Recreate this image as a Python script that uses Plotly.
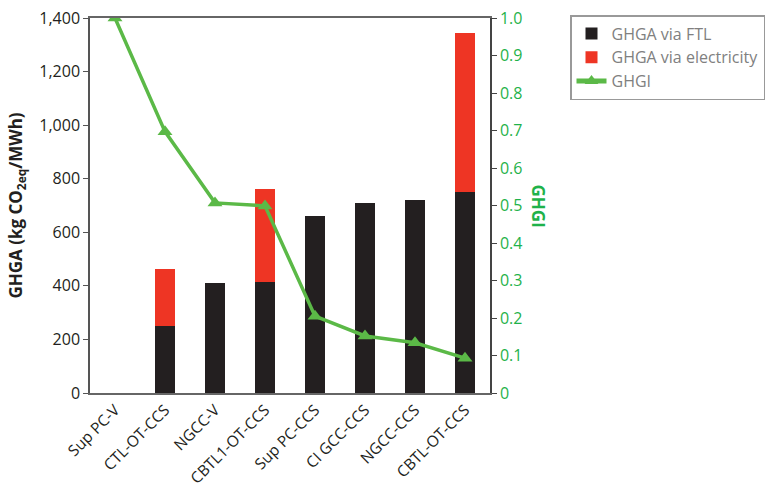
import plotly.graph_objects as go

# Plant configurations and their greenhouse-gas results
categories = ["Sup PC-V", "CTL-OT-CCS", "NGCC-V", "CBTL1-OT-CCS",
              "Sup PC-CCS", "CI GCC-CCS", "NGCC-CCS", "CBTL-OT-CCS"]
ghga_ftl = [0, 250, 410, 414, 660, 709, 720, 750]          # kg CO2eq/MWh
ghga_electricity = [0, 213, 0, 347, 0, 0, 0, 593]         # kg CO2eq/MWh
ghgi = [1.0, 0.697, 0.507, 0.499, 0.205, 0.152, 0.134, 0.093]

left_ticks = [0, 200, 400, 600, 800, 1000, 1200, 1400]
right_ticks = [0, 0.1, 0.2, 0.3, 0.4, 0.5, 0.6, 0.7, 0.8, 0.9, 1.0]

BLACK = "#231f20"
RED = "#ee3524"
GREEN = "#5bb947"
GREEN_TXT = "#1fb24a"
FONT = "Open Sans"

fig = go.Figure()
fig.add_trace(go.Bar(x=categories, y=ghga_ftl, name="GHGA via FTL",
                     marker=dict(color=BLACK, line=dict(width=0)), width=0.4))
fig.add_trace(go.Bar(x=categories, y=ghga_electricity, name="GHGA via electricity",
                     marker=dict(color=RED, line=dict(width=0)), width=0.4))
fig.add_trace(go.Scatter(x=categories, y=ghgi, name="GHGI", yaxis="y2",
                         mode="lines+markers",
                         line=dict(color=GREEN, width=3.5),
                         marker=dict(symbol="triangle-up", size=13, color=GREEN)))

fig.update_layout(
    width=772, height=488,
    margin=dict(l=90, r=282, t=18, b=95, autoexpand=False),
    barmode="stack",
    paper_bgcolor="white", plot_bgcolor="white",
    font=dict(family=FONT, size=15, color=BLACK),
    xaxis=dict(range=[-0.5, 7.5], tickangle=-45, showline=True, linecolor="#666666",
               linewidth=2, mirror=True, ticks="", automargin=False,
               tickfont=dict(size=15.5, color=BLACK)),
    yaxis=dict(range=[0, 1400], tickvals=left_ticks,
               ticktext=[f"{v:,}" for v in left_ticks], automargin=False,
               showgrid=False, zeroline=False, showline=True, linecolor="#555555",
               linewidth=1.5, ticks="outside", ticklen=5, tickcolor="#555555",
               tickfont=dict(size=16, color=BLACK),
               title=dict(text="<b>GHGA (kg CO<sub>2eq</sub>/MWh)</b>",
                          font=dict(size=17, color=BLACK),
                          standoff=12)),
    yaxis2=dict(range=[0, 1.0], tickvals=right_ticks,
                ticktext=["0"] + [f"{v:.1f}" for v in right_ticks[1:]],
                overlaying="y", side="right", showgrid=False, zeroline=False,
                showline=True, linecolor="#444444", linewidth=1.5, automargin=False,
                ticks="outside", ticklen=5, tickcolor="#444444",
                tickfont=dict(size=16, color=GREEN_TXT)),
    legend=dict(x=1.2, y=1.008, xanchor="left", yanchor="top",
                bordercolor="#999999", borderwidth=1.5,
                font=dict(size=16, color="#808080"),
                itemsizing="constant", traceorder="normal", tracegroupgap=6),
    showlegend=True,
)

fig.add_annotation(text="<b>GHGI</b>", xref="paper", yref="paper",
                   x=1.12, y=0.5, xanchor="center", yanchor="middle",
                   textangle=90, showarrow=False,
                   font=dict(size=17, color=GREEN_TXT))

fig.write_html("out.html")
